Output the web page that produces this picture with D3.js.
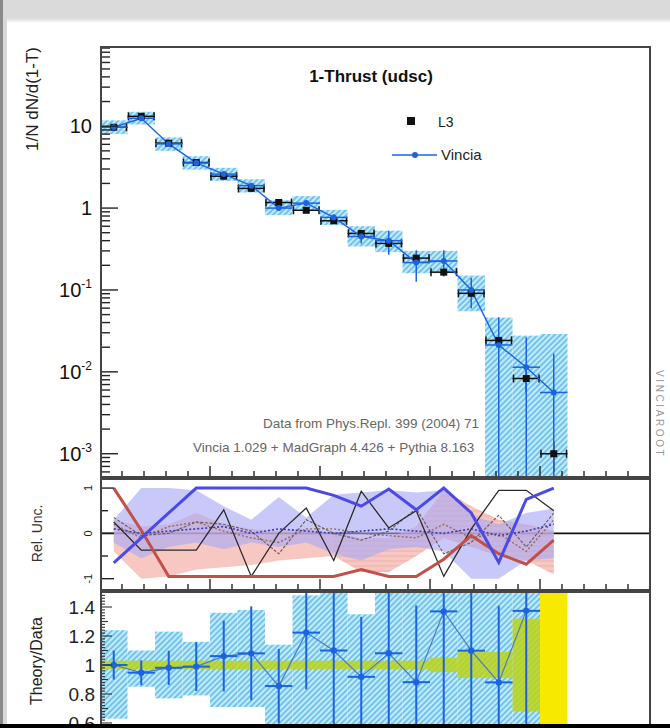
<!DOCTYPE html>
<html>
<head>
<meta charset="utf-8">
<script src="https://cdn.jsdelivr.net/npm/d3@7"></script>
<style>
  html, body { margin: 0; padding: 0; background: #fff; }
  svg { display: block; font-family: "Liberation Sans", Arial, Helvetica, sans-serif; }
</style>
</head>
<body>
<svg id="chart" width="670" height="728"></svg>
<script>
// ---- 1-Thrust (udsc): bins of width 0.025 from 0 to 0.425 ----
const binLo = [0, 0.025, 0.05, 0.075, 0.1, 0.125, 0.15, 0.175, 0.2, 0.225, 0.25, 0.275, 0.3, 0.325, 0.35, 0.375, 0.4];
const binWidth = 0.025;

// L3 measurement
const l3 = [9.7, 13.2, 6.2, 3.6, 2.45, 1.74, 1.17, 0.94, 0.70, 0.49, 0.37, 0.245, 0.165, 0.091, 0.0242, 0.0083, 0.001];
// relative data uncertainty
const l3RelErr = [0.03, 0.03, 0.03, 0.03, 0.03, 0.03, 0.03, 0.03, 0.03, 0.03, 0.03, 0.03, 0.05, 0.09, 0.09, 0.32, 0.4];

// Vincia prediction
const vincia = [9.7, 12.5, 6.08, 3.56, 2.6, 1.88, 1.0, 1.15, 0.77, 0.45, 0.40, 0.216, 0.226, 0.100, 0.0213, 0.0114, 0.0056];
const vinciaErr = [0.5, 0.6, 0.3, 0.2, 0.15, 0.1, 0.08, 0.08, 0.07, 0.08, 0.13, 0.09, 0.08, 0.04, 0.025, 0.015, 0.011];
// Vincia uncertainty band (absolute)
const vinciaBandHi = [11.8, 15.0, 7.3, 4.3, 3.1, 2.25, 1.25, 1.4, 0.95, 0.6, 0.53, 0.3, 0.3, 0.15, 0.046, 0.0277, 0.029];
const vinciaBandLo = [8.0, 10.5, 5.0, 2.95, 2.15, 1.55, 0.82, 0.92, 0.62, 0.34, 0.29, 0.16, 0.16, 0.055, 0.0002, 0.0001, 0.0001];
// Theory/Data panel: uncertainty band and statistical error (relative to data)
const ratioBandHi = [1.24, 1.10, 1.23, 1.16, 1.36, 1.38, 1.14, 1.48, 1.6, 1.35, 1.6, 1.6, 1.8, 1.65, 1.9, 3.3, 29];
const ratioBandLo = [0.63, 0.85, 0.77, 0.79, 0.71, 0.71, 0.45, 0.45, 0.45, 0.4, 0.45, 0.45, 0.45, 0.45, 0.01, 0.01, 0.1];
const ratioErr = [0.1, 0.09, 0.12, 0.17, 0.23, 0.3, 0.3, 0.32, 0.5, 0.45, 0.6, 0.6, 0.6, 0.6, 0.6, 0.6, 0.6];

// Relative-uncertainty panel components
const relBlueHi = [0.3, 1.0, 1.0, 0.95, 0.6, 0.3, 0.8, 0.35, 0.85, 0.9, 0.95, 0.9, 0.95, 0.4, 0.2, 0.45, 0.55];
const relBlueLo = [-0.2, -0.55, -0.3, -0.2, -0.35, -0.2, -0.3, -0.2, -0.45, -0.6, -0.35, -0.3, -0.4, -1.0, -1.0, -0.6, -0.55];
const relPinkHi = [0.3, 0.15, 0.2, 0.45, 0.2, 0.1, 0.05, 0.1, 0.0, -0.1, -0.1, 0.15, 0.95, 0.6, 0.3, 0.2, 0.05];
const relPinkLo = [-0.4, -1.0, -0.95, -0.8, -0.75, -0.7, -0.6, -0.55, -0.5, -0.85, -0.85, -0.5, -0.1, -0.3, -0.5, -0.6, -0.9];
const relBlueLine = [-0.65, -0.1, 0.45, 1.0, 1.0, 1.0, 1.0, 1.0, 0.84, 0.6, 0.98, 0.52, 1.0, 0.45, -0.64, 0.75, 1.0];
const relRedLine = [1.0, 0.07, -0.95, -0.95, -0.95, -0.95, -0.95, -0.95, -0.95, -0.8, -0.95, -0.95, -0.57, -0.05, -0.45, -0.68, -0.15];
const relBlackA = [0.25, -0.37, -0.37, -0.37, 0.52, -0.95, 0.0, 0.56, -0.6, 0.93, 0.12, 0.5, -0.95, 0.1, 0.95, 0.95, 0.5];
const relBlackB = [0.35, -0.05, 0.0, 0.25, 0.2, 0.05, -0.45, 0.3, 0.0, -0.15, 0.05, 0.55, -0.45, -0.2, 0.4, -0.3, 0.45];
const relDotBlue = [0.1, 0.0, 0.05, 0.1, 0.15, 0.0, 0.1, 0.05, 0.0, 0.05, 0.1, 0.05, 0.0, 0.1, -0.05, 0.05, 0.2];
const relDotBrown = [0.2, -0.1, 0.15, 0.25, 0.05, -0.1, -0.2, 0.1, 0.1, 0.0, -0.05, -0.1, 0.2, -0.1, 0.0, -0.4, 0.3];

// axis tick labels
const mainYTicks = [10, 1, 0.1, 0.01, 0.001];
const relYTicks = [1, 0, -1];
const ratioYTicks = [1.4, 1.2, 1, 0.8, 0.6];

// ---- layout ----
const svg = d3.select("#chart");
const W = 670, H = 728;
const X0 = 100, X1 = 650;
const mainTop = 47, mainBot = 477;
const relTop = 479, relBot = 590;
const ratTop = 592, ratBot = 760;

const x = d3.scaleLinear().domain([0, 0.5]).range([X0, X1]);
const yMain = d3.scaleLog().domain([5.2e-4, 92.7]).range([mainBot, mainTop]);
const yRel = d3.scaleLinear().domain([-1.25, 1.2]).range([relBot, relTop]);
const yRat = d3.scaleLinear().domain([0.5, 1.5]).range([737.5, 592.5]);

const bins = binLo.map((lo, i) => ({
  i, lo, hi: lo + binWidth, c: lo + binWidth / 2,
  l3: l3[i], l3e: l3[i] * l3RelErr[i], l3rel: l3RelErr[i],
  v: vincia[i], ve: vinciaErr[i], bHi: vinciaBandHi[i], bLo: vinciaBandLo[i],
  r: vincia[i] / l3[i], re: ratioErr[i], rbHi: ratioBandHi[i], rbLo: ratioBandLo[i]
}));

const blue = "#1b63e0";

// ---- window decoration ----
const defs = svg.append("defs");
const g1 = defs.append("linearGradient").attr("id", "topfade").attr("x1", 0).attr("y1", 0).attr("x2", 0).attr("y2", 1);
g1.append("stop").attr("offset", 0).attr("stop-color", "#dadada");
g1.append("stop").attr("offset", 0.78).attr("stop-color", "#dadada");
g1.append("stop").attr("offset", 1).attr("stop-color", "#ffffff");
svg.append("rect").attr("x", 0).attr("y", 0).attr("width", W).attr("height", 23).attr("fill", "url(#topfade)");
svg.append("rect").attr("x", 0).attr("y", 0).attr("width", 3).attr("height", H).attr("fill", "#8a8a8a");
svg.append("rect").attr("x", 3).attr("y", 18).attr("width", 4).attr("height", H).attr("fill", "#d8d8d8");

// hatch patterns
const hatch = defs.append("pattern").attr("id", "hatch").attr("patternUnits", "userSpaceOnUse")
  .attr("width", 4).attr("height", 4).attr("patternTransform", "rotate(45)");
hatch.append("rect").attr("width", 4).attr("height", 4).attr("fill", "#c3ebfa");
hatch.append("line").attr("x1", 1).attr("y1", 0).attr("x2", 1).attr("y2", 4).attr("stroke", "#45aee8").attr("stroke-width", 1.3);

const hstripe = defs.append("pattern").attr("id", "hstripe").attr("patternUnits", "userSpaceOnUse")
  .attr("width", 6).attr("height", 5);
hstripe.append("line").attr("x1", 0).attr("y1", 1).attr("x2", 6).attr("y2", 1).attr("stroke", "#f0b8b0").attr("stroke-width", 1.5);

// clip paths per panel
function clip(id, y0, y1) {
  defs.append("clipPath").attr("id", id).append("rect")
    .attr("x", X0).attr("y", y0).attr("width", X1 - X0).attr("height", y1 - y0);
}
clip("cMain", mainTop, mainBot);
clip("cRel", relTop, relBot);
clip("cRat", ratTop, 724);

// ================= MAIN PANEL =================
const gm = svg.append("g").attr("clip-path", "url(#cMain)");

// Vincia uncertainty band (hatched boxes)
gm.selectAll("rect.band").data(bins).join("rect")
  .attr("x", d => x(d.lo)).attr("width", d => x(d.hi) - x(d.lo))
  .attr("y", d => yMain(d.bHi)).attr("height", d => yMain(d.bLo) - yMain(d.bHi))
  .attr("fill", "url(#hatch)");

// L3 data error bars
gm.selectAll("line.l3h").data(bins).join("line")
  .attr("x1", d => x(d.lo)).attr("x2", d => x(d.hi))
  .attr("y1", d => yMain(d.l3)).attr("y2", d => yMain(d.l3))
  .attr("stroke", "#111").attr("stroke-width", 1.5);
gm.selectAll("line.l3capL").data(bins).join("line")
  .attr("x1", d => x(d.lo) + 1).attr("x2", d => x(d.lo) + 1)
  .attr("y1", d => yMain(d.l3) - 4).attr("y2", d => yMain(d.l3) + 4)
  .attr("stroke", "#111").attr("stroke-width", 1.5);
gm.selectAll("line.l3capR").data(bins).join("line")
  .attr("x1", d => x(d.hi) - 1).attr("x2", d => x(d.hi) - 1)
  .attr("y1", d => yMain(d.l3) - 4).attr("y2", d => yMain(d.l3) + 4)
  .attr("stroke", "#111").attr("stroke-width", 1.5);
gm.selectAll("line.l3v").data(bins).join("line")
  .attr("x1", d => x(d.c)).attr("x2", d => x(d.c))
  .attr("y1", d => yMain(d.l3 + d.l3e)).attr("y2", d => yMain(Math.max(d.l3 - d.l3e, 1e-5)))
  .attr("stroke", "#111").attr("stroke-width", 1.5);

// Vincia line, error bars and markers
gm.append("path").datum(bins)
  .attr("d", d3.line().x(d => x(d.c)).y(d => yMain(d.v)))
  .attr("fill", "none").attr("stroke", blue).attr("stroke-width", 1.4);
gm.selectAll("line.vh").data(bins).join("line")
  .attr("x1", d => x(d.lo)).attr("x2", d => x(d.hi))
  .attr("y1", d => yMain(d.v)).attr("y2", d => yMain(d.v))
  .attr("stroke", blue).attr("stroke-width", 1.5);
gm.selectAll("line.vv").data(bins).join("line")
  .attr("x1", d => x(d.c)).attr("x2", d => x(d.c))
  .attr("y1", d => yMain(d.v + d.ve)).attr("y2", d => yMain(Math.max(d.v - d.ve, 1e-6)))
  .attr("stroke", blue).attr("stroke-width", 1.5);
gm.selectAll("rect.l3m").data(bins).join("rect")
  .attr("x", d => x(d.c) - 3.5).attr("y", d => yMain(d.l3) - 3.5)
  .attr("width", 7).attr("height", 7).attr("fill", "#111");
gm.selectAll("circle.vm").data(bins).join("circle")
  .attr("cx", d => x(d.c)).attr("cy", d => yMain(d.v)).attr("r", 3)
  .attr("fill", blue);

// main y axis ticks (log)
const logTicks = [];
for (let k = -4; k <= 2; k++) {
  for (let m = 1; m <= 9; m++) {
    const v = m * Math.pow(10, k);
    if (v >= 5.2e-4 && v <= 92.7) logTicks.push({ v, major: m === 1 });
  }
}
svg.append("g").selectAll("line").data(logTicks).join("line")
  .attr("x1", X0).attr("x2", d => X0 + (d.major ? 18 : 10))
  .attr("y1", d => yMain(d.v)).attr("y2", d => yMain(d.v))
  .attr("stroke", "#222").attr("stroke-width", 1.4);

// main y labels
const labG = svg.append("g").attr("fill", "#111");
mainYTicks.forEach(v => {
  const t = labG.append("text").attr("x", 92).attr("y", yMain(v) + 7)
    .attr("text-anchor", "end").attr("font-size", 20);
  const e = Math.round(Math.log10(v));
  if (e === 1) t.text("10");
  else if (e === 0) t.text("1");
  else {
    t.append("tspan").text("10");
    t.append("tspan").attr("font-size", 12).attr("dy", -9).text(String(e));
  }
});

// bottom x ticks for main and relative panels
const xTicks = d3.range(0, 0.5001, 0.02).map(v => ({ v, major: Math.abs(v * 10 - Math.round(v * 10)) < 1e-6 }));
[mainBot, relBot].forEach(yb => {
  svg.append("g").selectAll("line").data(xTicks.filter(d => d.v > 0 && d.v < 0.5)).join("line")
    .attr("x1", d => x(d.v)).attr("x2", d => x(d.v))
    .attr("y1", yb).attr("y2", d => yb - (d.major ? 11 : 6))
    .attr("stroke", "#222").attr("stroke-width", 1.4);
});

// title, legend, notes
svg.append("text").attr("x", 371).attr("y", 82).attr("text-anchor", "middle")
  .attr("font-size", 17).attr("font-weight", "bold").attr("fill", "#111").text("1-Thrust (udsc)");
svg.append("rect").attr("x", 407).attr("y", 117).attr("width", 8).attr("height", 8).attr("fill", "#111");
svg.append("text").attr("x", 438).attr("y", 127).attr("font-size", 14).attr("fill", "#222").text("L3");
svg.append("line").attr("x1", 392).attr("x2", 437).attr("y1", 155).attr("y2", 155)
  .attr("stroke", blue).attr("stroke-width", 1.5);
svg.append("circle").attr("cx", 415).attr("cy", 155).attr("r", 3).attr("fill", blue);
svg.append("text").attr("x", 441).attr("y", 160).attr("font-size", 15).attr("fill", "#222").text("Vincia");

svg.append("text").attr("x", 371).attr("y", 428).attr("text-anchor", "middle")
  .attr("font-size", 13.5).attr("fill", "#666").text("Data from Phys.Repl. 399 (2004) 71");
svg.append("text").attr("x", 193).attr("y", 452)
  .attr("font-size", 13.5).attr("fill", "#666").text("Vincia 1.029 + MadGraph 4.426 +  Pythia 8.163");

svg.append("text").attr("transform", "translate(32,47) rotate(-90)").attr("text-anchor", "end")
  .attr("dy", 6).attr("font-size", 17).attr("fill", "#222").text("1/N dN/d(1-T)");

svg.append("text").attr("transform", "translate(656,370) rotate(90)")
  .attr("font-size", 10).attr("letter-spacing", 2.6).attr("fill", "#999").text("VINCIAROOT");

// ================= RELATIVE UNCERTAINTY PANEL =================
const gr = svg.append("g").attr("clip-path", "url(#cRel)");
gr.append("line").attr("x1", X0).attr("x2", X1).attr("y1", yRel(0)).attr("y2", yRel(0))
  .attr("stroke", "#111").attr("stroke-width", 1.6);

const relIdx = bins.map(d => d.i);
const area = (hi, lo) => d3.area().x(i => x(bins[i].c)).y0(i => yRel(lo[i])).y1(i => yRel(hi[i]));
gr.append("path").datum(relIdx).attr("d", area(relPinkHi, relPinkLo))
  .attr("fill", "#f2aaa2").attr("opacity", 0.65);
gr.append("path").datum(relIdx.filter(i => i >= 8)).attr("d", area(relPinkHi, relPinkLo))
  .attr("fill", "url(#hstripe)");
gr.append("path").datum(relIdx).attr("d", area(relBlueHi, relBlueLo))
  .attr("fill", "#a8a8f6").attr("opacity", 0.62);

const ln = arr => d3.line().x(i => x(bins[i].c)).y(i => yRel(arr[i]));
gr.append("path").datum(relIdx).attr("d", ln(relDotBrown))
  .attr("fill", "none").attr("stroke", "#9a6a5a").attr("stroke-width", 1.4).attr("stroke-dasharray", "2,2");
gr.append("path").datum(relIdx).attr("d", ln(relDotBlue))
  .attr("fill", "none").attr("stroke", "#3a3ab8").attr("stroke-width", 1.6).attr("stroke-dasharray", "2,2");
gr.append("path").datum(relIdx).attr("d", ln(relBlackB))
  .attr("fill", "none").attr("stroke", "#6a5a55").attr("stroke-width", 1.1).attr("stroke-dasharray", "3,1.5");
gr.append("path").datum(relIdx).attr("d", ln(relBlackA))
  .attr("fill", "none").attr("stroke", "#2a2a2a").attr("stroke-width", 1.3);
gr.append("path").datum(relIdx).attr("d", ln(relRedLine))
  .attr("fill", "none").attr("stroke", "#c25048").attr("stroke-width", 3);
gr.append("path").datum(relIdx).attr("d", ln(relBlueLine))
  .attr("fill", "none").attr("stroke", "#4a4ae6").attr("stroke-width", 3);

// rel y ticks + labels
const relTicks = d3.range(-1, 1.01, 0.5);
svg.append("g").selectAll("line").data(relTicks).join("line")
  .attr("x1", X0).attr("x2", d => X0 + (Math.abs(d % 1) < 1e-6 ? 14 : 8))
  .attr("y1", d => yRel(d)).attr("y2", d => yRel(d))
  .attr("stroke", "#222").attr("stroke-width", 1.4);
relYTicks.forEach(v => {
  svg.append("text").attr("transform", `translate(92,${yRel(v)}) rotate(-90)`)
    .attr("text-anchor", "middle").attr("font-size", 11).attr("fill", "#222").text(String(v));
});
svg.append("text").attr("transform", `translate(42,${yRel(0)}) rotate(-90)`)
  .attr("text-anchor", "middle").attr("font-size", 14).attr("fill", "#333").text("Rel. Unc.");

// ================= THEORY / DATA PANEL =================
const gt = svg.append("g").attr("clip-path", "url(#cRat)");
const rMax = yRat.domain()[1];
gt.selectAll("rect.rband").data(bins.filter(d => d.r <= rMax)).join("rect")
  .attr("x", d => x(d.lo)).attr("width", d => x(d.hi) - x(d.lo))
  .attr("y", d => yRat(d.rbHi)).attr("height", d => yRat(d.rbLo) - yRat(d.rbHi))
  .attr("fill", "url(#hatch)");
gt.selectAll("rect.dband").data(bins.filter(d => d.r <= rMax)).join("rect")
  .attr("x", d => x(d.lo)).attr("width", d => x(d.hi) - x(d.lo))
  .attr("y", d => yRat(1 + d.l3rel)).attr("height", d => yRat(1 - d.l3rel) - yRat(1 + d.l3rel))
  .attr("fill", "#bcd41a").attr("opacity", 0.85);
// out-of-range bins
gt.selectAll("rect.oor").data(bins.filter(d => d.r > rMax)).join("rect")
  .attr("x", d => x(d.lo)).attr("width", d => x(d.hi) - x(d.lo))
  .attr("y", ratTop).attr("height", ratBot - ratTop).attr("fill", "#f7ea00");

const inR = bins.filter(d => d.r <= rMax);
gt.append("path").datum(inR)
  .attr("d", d3.line().x(d => x(d.c)).y(d => yRat(d.r)))
  .attr("fill", "none").attr("stroke", "#4a7ac8").attr("stroke-width", 1.2);
gt.selectAll("line.rv").data(inR).join("line")
  .attr("x1", d => x(d.c)).attr("x2", d => x(d.c))
  .attr("y1", d => yRat(d.r * (1 + d.re))).attr("y2", d => yRat(d.r * (1 - d.re)))
  .attr("stroke", blue).attr("stroke-width", 2);
gt.selectAll("line.rh").data(inR).join("line")
  .attr("x1", d => x(d.lo)).attr("x2", d => x(d.hi))
  .attr("y1", d => yRat(d.r)).attr("y2", d => yRat(d.r))
  .attr("stroke", blue).attr("stroke-width", 2);
gt.selectAll("circle.rm").data(inR).join("circle")
  .attr("cx", d => x(d.c)).attr("cy", d => yRat(d.r)).attr("r", 3.2).attr("fill", blue);

// ratio y ticks
const ratTicks = d3.range(0.5, 1.5001, 0.02).map(v => ({ v, k: Math.round(v * 50) }));
svg.append("g").selectAll("line").data(ratTicks.filter(d => yRat(d.v) > ratTop && yRat(d.v) < 724)).join("line")
  .attr("x1", X0).attr("x2", d => X0 + (d.k % 10 === 0 ? 12 : (d.k % 5 === 0 ? 8 : 5)))
  .attr("y1", d => yRat(d.v)).attr("y2", d => yRat(d.v))
  .attr("stroke", "#333").attr("stroke-width", 1.1);
ratioYTicks.forEach(v => {
  svg.append("text").attr("x", 95).attr("y", yRat(v) + 7).attr("text-anchor", "end")
    .attr("font-size", 19).attr("fill", "#222").text(String(v));
});
svg.append("text").attr("transform", `translate(42,661) rotate(-90)`)
  .attr("text-anchor", "middle").attr("font-size", 16).attr("fill", "#222").text("Theory/Data");

// ---- panel frames ----
const frame = svg.append("g").attr("fill", "none").attr("stroke", "#444").attr("stroke-width", 2);
frame.append("rect").attr("x", X0 + 1).attr("y", mainTop).attr("width", X1 - X0 - 1).attr("height", mainBot - mainTop);
frame.append("rect").attr("x", X0 + 1).attr("y", relTop).attr("width", X1 - X0 - 1).attr("height", relBot - relTop);
frame.append("rect").attr("x", X0 + 1).attr("y", ratTop).attr("width", X1 - X0 - 1).attr("height", ratBot - ratTop);

// bottom strip
svg.append("rect").attr("x", 0).attr("y", 724).attr("width", W).attr("height", 4).attr("fill", "#000");
</script>
</body>
</html>
